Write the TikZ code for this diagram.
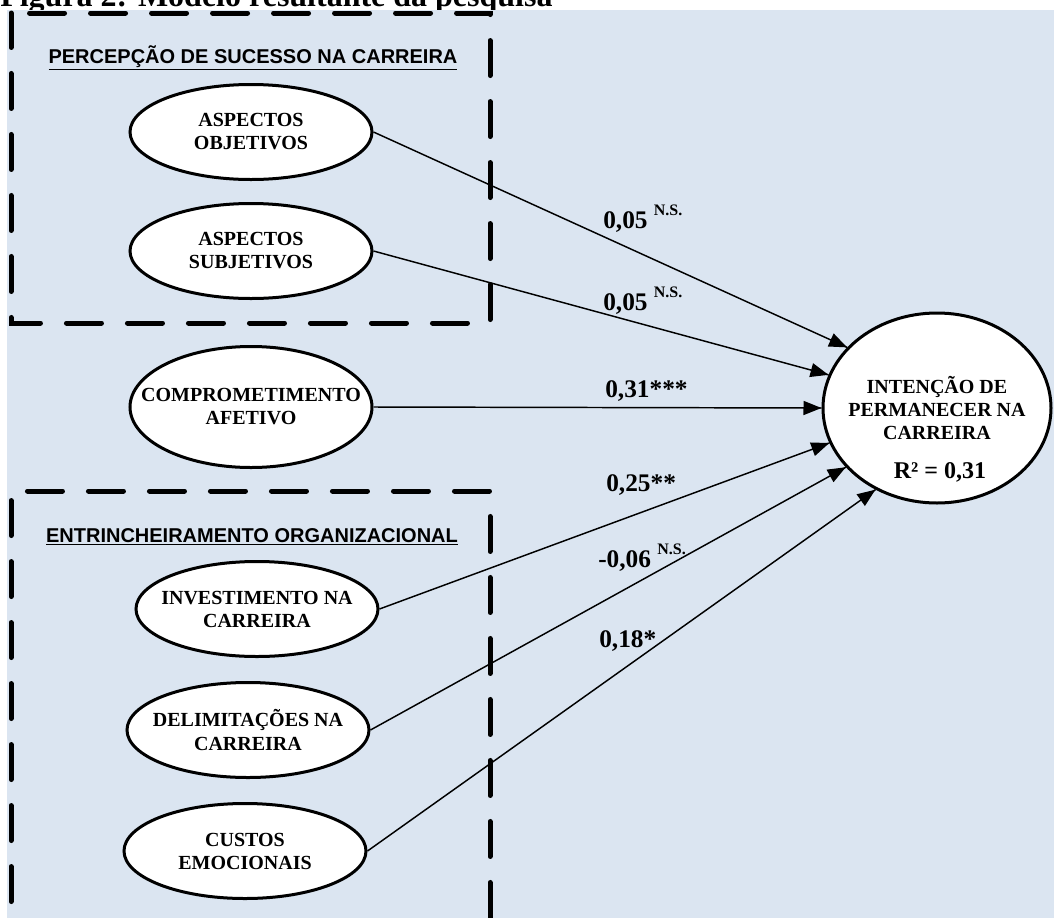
\documentclass[tikz,border=0pt]{standalone}
\usepackage{fontspec}
\setmainfont{Liberation Serif}
\setsansfont{Liberation Sans}
\usetikzlibrary{arrows.meta}
\usetikzlibrary{decorations.markings}
\usetikzlibrary{shapes.geometric}
\tikzset{seta/.style = {line width=1.1pt,
                        decoration={markings,
                                    mark=at position 1 with {\arrow{Triangle[length=13.5pt, width=10.5pt]}}},
                        postaction={decorate}}}
\tikzset{var/.style = {ellipse, draw, fill=white, line width=2.25pt, inner xsep=-25pt, inner ysep=0pt,
                       minimum width=181.5pt, minimum height=71.25pt, align=center,
                       font=\fontsize{15}{17.25}\selectfont\bfseries}}
\tikzset{coef/.style = {anchor=base west, inner sep=0, font=\fontsize{19}{22}\selectfont\bfseries}}
\tikzset{grupo/.style = {dash pattern=on 26.25pt off 19.5pt, line width=3.75pt, line cap=round}}
\tikzset{cabec/.style = {anchor=base, inner sep=0, font=\fontsize{15}{18}\selectfont\sffamily\bfseries}}
\definecolor{fundo}{RGB}{219,229,241}
\newcommand{\ns}{\raisebox{9.75pt}{\fontsize{12}{12}\selectfont N.S.}}

\begin{document}
\begin{tikzpicture}[x=0.75pt, y=-0.75pt]
  \useasboundingbox (0,0) rectangle (1054,918);
  \node [anchor=base west, inner sep=0, font=\fontsize{24}{28}\selectfont\bfseries] (fig) at (0,6) {Figura 2: Modelo resultante da pesquisa};
  \fill [fundo] (7,10) rectangle (1054,918);

  % grupos
  \draw [grupo, dash phase=31.85pt] (11,13) -- (490,13) -- (490,323) -- (11,323) -- cycle;
  \draw [grupo, dash phase=24.4pt] (11,930) -- (11,491) -- (490,491) -- (490,930);
  \node [cabec] (sucesso) at (253,63) {\underline{PERCEPÇÃO DE SUCESSO NA CARREIRA}};
  \node [cabec] (entrinch) at (252,542) {\underline{ENTRINCHEIRAMENTO ORGANIZACIONAL}};

  % variaveis
  \node [var] (obj) at (251,132) {ASPECTOS\\OBJETIVOS};
  \node [var] (subj) at (251,251) {ASPECTOS\\SUBJETIVOS};
  \node [var, minimum height=90.75pt] (comp) at (251,407) {COMPROMETIMENTO\\AFETIVO};
  \node [var] (inv) at (257,609) {INVESTIMENTO NA\\CARREIRA};
  \node [var] (delim) at (248,730) {DELIMITAÇÕES NA\\CARREIRA};
  \node [var] (custos) at (245,851) {CUSTOS\\EMOCIONAIS};

  \node [var, minimum width=171pt, minimum height=142.5pt] (intencao) at (937,408) {INTENÇÃO DE\\PERMANECER NA\\CARREIRA};
  \node [anchor=base, inner sep=0, font=\fontsize{18}{18}\selectfont\bfseries] (rquad) at (940,478) {R² = 0,31};

  % caminhos
  \draw [seta] (obj.east) -- (intencao.146);
  \draw [seta] (subj.east) -- (intencao.163);
  \draw [seta] (comp.east) -- (intencao.180);
  \draw [seta] (inv.east) -- (intencao.198);
  \draw [seta] (delim.east) -- (intencao.213);
  \draw [seta] (custos.east) -- (intencao.233);

  \node [coef] (c1) at (603,228) {0,05 \ns};
  \node [coef] (c2) at (603,310) {0,05 \ns};
  \node [coef] (c3) at (605,397) {0,31***};
  \node [coef] (c4) at (606,491) {0,25**};
  \node [coef] (c5) at (598,567) {-0,06 \ns};
  \node [coef] (c6) at (599,647) {0,18*};
\end{tikzpicture}
\end{document}
